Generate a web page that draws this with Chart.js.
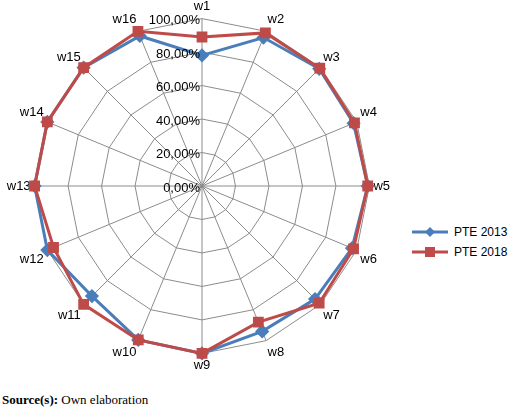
<!DOCTYPE html>
<html><head><meta charset="utf-8">
<script src="https://cdn.jsdelivr.net/npm/chart.js@4/dist/chart.umd.min.js"></script>
<style>
body{margin:0;background:#fff;width:520px;height:411px;position:relative;overflow:hidden}
#wrap{position:absolute;left:0;top:0;width:398px;height:374px}
#legend{position:absolute;left:412px;top:222px;font:12px "Liberation Sans",Arial,sans-serif;color:#000}
.li{display:flex;align-items:center;height:20px}
.li svg{margin-right:6px}
#src{position:absolute;left:2px;top:392px;font:13px "Liberation Serif","Times New Roman",serif}
</style></head><body>
<div id="wrap"><canvas id="c"></canvas></div>
<div id="legend">
<div class="li"><svg width="36" height="12"><line x1="0" y1="6" x2="36" y2="6" stroke="#4a7ebb" stroke-width="3"/><polygon points="18,1 23,6 18,11 13,6" fill="#4a7ebb"/></svg>PTE 2013</div>
<div class="li"><svg width="36" height="12"><line x1="0" y1="6" x2="36" y2="6" stroke="#be4b48" stroke-width="3"/><rect x="13" y="1" width="10" height="10" fill="#be4b48"/></svg>PTE 2018</div>
</div>
<div id="src"><b>Source(s):</b> Own elaboration</div>
<script>
const categories=['w1','w2','w3','w4','w5','w6','w7','w8','w9','w10','w11','w12','w13','w14','w15','w16'];
const pte2013=[78,96,99,98,99,97,95.5,94,100,99.5,93,100,100,100,100,97];
const pte2018=[89,99,99.5,98.6,99,98,99,88,100,99.5,100,96,100,100,100,100];
const tickLabels=['0,00%','20,00%','40,00%','60,00%','80,00%','100,00%'];
const tickPlugin={id:'ticks',afterDatasetsDraw(chart){
 const s=chart.scales.r,ctx=chart.ctx;ctx.save();
 ctx.font='13px "Liberation Sans",Arial,sans-serif';ctx.fillStyle='#000';ctx.textAlign='right';ctx.textBaseline='middle';
 tickLabels.forEach((t,i)=>{const d=s.getDistanceFromCenterForValue(i*20);ctx.fillText(t,s.xCenter-2,s.yCenter-d+2);});
 ctx.restore();}};
new Chart(document.getElementById('c'),{type:'radar',
 data:{labels:categories,datasets:[
  {label:'PTE 2013',data:pte2013,order:2,borderColor:'#4a7ebb',backgroundColor:'#4a7ebb',borderWidth:3,pointStyle:'rectRot',pointRadius:5,fill:false},
  {label:'PTE 2018',data:pte2018,order:1,borderColor:'#be4b48',backgroundColor:'#be4b48',borderWidth:3,pointStyle:'rect',pointRadius:5.5,fill:false}]},
 options:{responsive:true,maintainAspectRatio:false,animation:false,
  layout:{padding:{top:0,bottom:0,left:0,right:0}},
  plugins:{legend:{display:false},tooltip:{enabled:false}},
  elements:{line:{tension:0}},
  scales:{r:{min:0,max:100,ticks:{display:false,stepSize:20},
   grid:{color:'#8c8c8c',lineWidth:1},angleLines:{color:'#8c8c8c'},
   pointLabels:{font:{size:13,family:'"Liberation Sans",Arial,sans-serif'},color:'#000',padding:4}}}},
 plugins:[tickPlugin]});
</script></body></html>
